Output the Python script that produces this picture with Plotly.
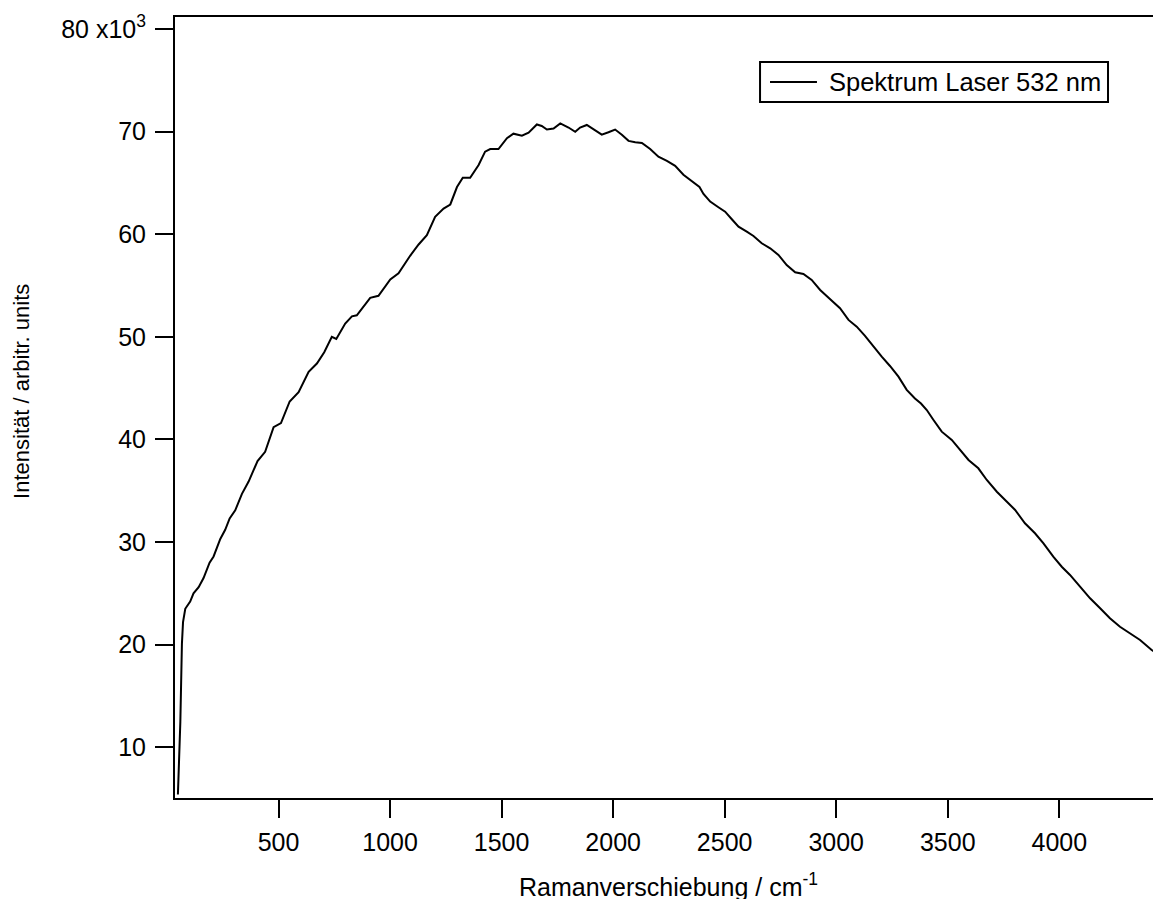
import plotly.graph_objects as go

# Raman shift (cm^-1) and intensity (x10^3 arbitrary units)
raman_shift = [49, 60, 67, 72, 82, 97, 104, 119, 142, 164, 191, 209, 239, 261, 281, 306, 336,
               366, 406, 440, 478, 511, 550, 590, 635, 672, 705, 739, 759, 799, 829, 851,
               911, 948, 1001, 1038, 1090, 1128, 1165, 1202, 1240, 1270, 1300, 1326, 1359,
               1397, 1426, 1449, 1486, 1524, 1553, 1591, 1621, 1658, 1680, 1703, 1733, 1763,
               1800, 1830, 1852, 1882, 1912, 1949, 1979, 2009, 2039, 2069, 2099, 2129, 2166,
               2203, 2241, 2278, 2315, 2353, 2387, 2405, 2435, 2472, 2502, 2532, 2562, 2599,
               2629, 2666, 2704, 2741, 2778, 2816, 2853, 2890, 2928, 2973, 3017, 3055, 3092,
               3129, 3167, 3204, 3241, 3279, 3316, 3353, 3380, 3406, 3436, 3473, 3518, 3555,
               3593, 3637, 3675, 3720, 3764, 3802, 3846, 3891, 3929, 3973, 4011, 4048, 4093,
               4138, 4183, 4227, 4272, 4317, 4362, 4414, 4425]
intensity = [5.4, 12.5, 20.1, 22.2, 23.5, 23.9, 24.2, 25.0, 25.6, 26.5, 28.0, 28.6, 30.3, 31.2,
             32.3, 33.1, 34.7, 35.9, 37.9, 38.8, 41.2, 41.6, 43.7, 44.6, 46.6, 47.4, 48.5, 50.0,
             49.8, 51.3, 52.0, 52.1, 53.8, 54.0, 55.6, 56.2, 57.9, 59.0, 59.9, 61.7, 62.5, 62.9,
             64.6, 65.5, 65.5, 66.75, 68.05, 68.3, 68.3, 69.36, 69.8, 69.6, 69.9, 70.7, 70.55,
             70.2, 70.3, 70.8, 70.4, 69.98, 70.4, 70.65, 70.23, 69.7, 69.94, 70.2, 69.7, 69.1,
             68.96, 68.9, 68.3, 67.56, 67.14, 66.66, 65.8, 65.2, 64.6, 63.93, 63.18, 62.63, 62.2,
             61.46, 60.74, 60.25, 59.83, 59.12, 58.63, 57.98, 57.0, 56.3, 56.13, 55.55, 54.57,
             53.66, 52.79, 51.65, 50.99, 50.09, 49.05, 48.07, 47.16, 46.12, 44.83, 44.0, 43.5,
             42.87, 41.9, 40.76, 39.95, 38.98, 38.0, 37.19, 36.05, 34.91, 33.94, 33.13, 31.83,
             30.86, 29.88, 28.58, 27.6, 26.8, 25.65, 24.52, 23.55, 22.57, 21.75, 21.11, 20.46,
             19.48, 19.35]

x_ticks = [500, 1000, 1500, 2000, 2500, 3000, 3500, 4000]
y_ticks = [10, 20, 30, 40, 50, 60, 70, 80]
y_ticktext = ["10", "20", "30", "40", "50", "60", "70", "80 x10<sup>3</sup>"]

series_name = "Spektrum Laser 532 nm"
x_title = "Ramanverschiebung / cm<sup>-1</sup>"
y_title = "Intensität / arbitr. units"

FONT = "Liberation Sans, Arial, sans-serif"

fig = go.Figure()
fig.add_trace(go.Scatter(
    x=raman_shift, y=intensity, mode="lines",
    line=dict(color="black", width=2),
    name=series_name, showlegend=False,
))

# legend drawn as a boxed key in paper coordinates
legend_shapes = [
    dict(type="rect", xref="paper", yref="paper", x0=0.5982, x1=0.954, y0=0.8912, y1=0.9424,
         line=dict(color="black", width=2), fillcolor="white", layer="above"),
    dict(type="line", xref="paper", yref="paper", x0=0.6084, x1=0.6564, y0=0.9168, y1=0.9168,
         line=dict(color="black", width=2), layer="above"),
]

fig.update_layout(
    width=1153, height=899,
    margin=dict(l=175, r=0, t=17, b=101),
    paper_bgcolor="white", plot_bgcolor="white",
    font=dict(family=FONT, size=25, color="black"),
    showlegend=False,
    shapes=legend_shapes,
    xaxis=dict(
        range=[36, 4420], tickvals=x_ticks,
        showgrid=False, zeroline=False,
        showline=True, linecolor="black", linewidth=2, mirror=True,
        ticks="outside", ticklen=18, tickwidth=2, tickcolor="black",
        ticklabelstandoff=3,
        tickfont=dict(family=FONT, size=25, color="black"),
    ),
    yaxis=dict(
        range=[5.06, 81.17], tickvals=y_ticks, ticktext=y_ticktext,
        showgrid=False, zeroline=False,
        showline=True, linecolor="black", linewidth=2,
        ticks="outside", ticklen=18, tickwidth=2, tickcolor="black",
        ticklabelstandoff=4,
        tickfont=dict(family=FONT, size=25, color="black"),
    ),
    annotations=[
        dict(text=series_name, xref="paper", yref="paper",
             x=0.6667, y=0.9168, xanchor="left", yanchor="middle", showarrow=False,
             font=dict(family=FONT, size=25.5, color="black")),
        dict(text=x_title, xref="paper", yref="paper",
             x=0.505, y=-0.1347, xanchor="center", yanchor="bottom", showarrow=False,
             font=dict(family=FONT, size=25, color="black")),
        dict(text=y_title, xref="paper", yref="paper",
             x=-0.1564, y=0.52, xanchor="center", yanchor="middle", textangle=-90,
             showarrow=False, font=dict(family=FONT, size=22, color="black")),
    ],
)

fig.write_html(
    "out.html",
    config={"displayModeBar": False},
    post_script="document.body.style.margin='0';document.body.style.overflow='hidden';",
)
